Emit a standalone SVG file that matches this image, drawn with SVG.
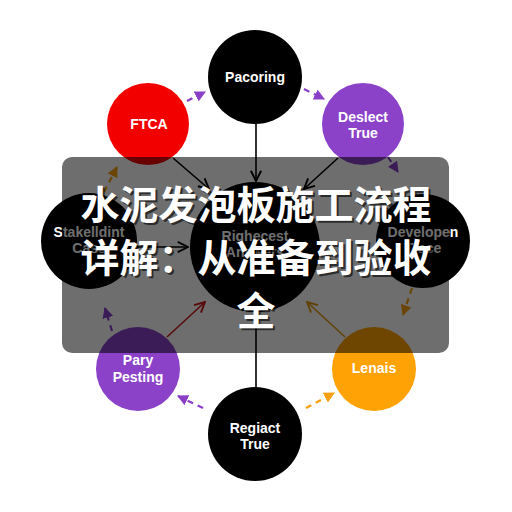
<svg xmlns="http://www.w3.org/2000/svg" width="512" height="512" viewBox="0 0 512 512">
  <style>
    .lbl{font-family:"Liberation Sans",Arial,sans-serif;font-weight:bold;font-size:14px;fill:#fff;text-anchor:middle}
    .dash{fill:none;stroke-width:2.2;stroke-dasharray:6 5}
    .solid{fill:none;stroke-width:1.6}
    .title{font-family:"Noto Sans CJK SC","Noto Sans",sans-serif;font-weight:bold;font-size:39px;fill:#fff;text-anchor:middle}
    .shadow{font-family:"Noto Sans CJK SC","Noto Sans",sans-serif;font-weight:bold;font-size:39px;fill:#000;fill-opacity:0.6;text-anchor:middle}
  </style>
  <defs>
    <marker id="tp" viewBox="0 0 10 10" refX="9" refY="5" markerWidth="5" markerHeight="5" orient="auto" markerUnits="strokeWidth">
      <path d="M0,0 L10,5 L0,10 Z" fill="#8a3fc9"/>
    </marker>
    <marker id="to" viewBox="0 0 10 10" refX="9" refY="5" markerWidth="5" markerHeight="5" orient="auto" markerUnits="strokeWidth">
      <path d="M0,0 L10,5 L0,10 Z" fill="#f5a010"/>
    </marker>
    <marker id="cb" viewBox="0 0 10 10" refX="9" refY="5" markerWidth="8" markerHeight="8" orient="auto" markerUnits="strokeWidth">
      <path d="M1,1 L9,5 L1,9" fill="none" stroke="#000" stroke-width="1.5"/>
    </marker>
    <marker id="cr" viewBox="0 0 10 10" refX="9" refY="5" markerWidth="8" markerHeight="8" orient="auto" markerUnits="strokeWidth">
      <path d="M1,1 L9,5 L1,9" fill="none" stroke="#d01818" stroke-width="1.5"/>
    </marker>
    <marker id="co" viewBox="0 0 10 10" refX="9" refY="5" markerWidth="8" markerHeight="8" orient="auto" markerUnits="strokeWidth">
      <path d="M1,1 L9,5 L1,9" fill="none" stroke="#e09a10" stroke-width="1.5"/>
    </marker>
  </defs>
  <rect width="512" height="512" fill="#fff"/>

  <g id="connectors">
    <line class="dash" x1="187" y1="101" x2="205" y2="92" stroke="#8a3fc9" marker-end="url(#tp)"/>
    <line class="dash" x1="304" y1="89" x2="324" y2="99" stroke="#8a3fc9" marker-end="url(#tp)"/>
    <line class="dash" x1="388" y1="157" x2="398" y2="172" stroke="#8a3fc9" marker-end="url(#tp)"/>
    <line class="dash" x1="104" y1="192" x2="117" y2="167" stroke="#f5a010" marker-end="url(#to)"/>
    <line class="dash" x1="112" y1="331" x2="105" y2="308" stroke="#8a3fc9" marker-end="url(#tp)"/>
    <line class="dash" x1="412" y1="288" x2="403" y2="315" stroke="#f5a010" marker-end="url(#to)"/>
    <line class="dash" x1="203" y1="408" x2="178" y2="396" stroke="#8a3fc9" marker-end="url(#tp)"/>
    <line class="dash" x1="306" y1="408" x2="334" y2="393" stroke="#f5a010" marker-end="url(#to)"/>
    <line class="solid" x1="256" y1="124" x2="256" y2="181" stroke="#000" marker-end="url(#cb)"/>
    <line class="solid" x1="173" y1="158" x2="209" y2="189" stroke="#000" marker-end="url(#cb)"/>
    <line class="solid" x1="338" y1="158" x2="304" y2="189" stroke="#000" marker-end="url(#cb)"/>
    <line class="solid" x1="137" y1="247" x2="188" y2="247" stroke="#000" marker-end="url(#cb)"/>
    <line class="solid" x1="167" y1="337" x2="205" y2="302" stroke="#d01818" marker-end="url(#cr)"/>
    <line class="solid" x1="345" y1="337" x2="307" y2="302" stroke="#e09a10" marker-end="url(#co)"/>
    <line class="solid" x1="256" y1="312" x2="256" y2="387" stroke="#000"/>
  </g>

  <g id="n-pacoring"><circle cx="255" cy="77" r="47" fill="#000"/><text class="lbl" x="255" y="82">Pacoring</text></g>
  <g id="n-ftca"><circle cx="148" cy="124" r="41" fill="#f20000"/><text class="lbl" x="149" y="129">FTCA</text></g>
  <g id="n-deslect"><circle cx="363" cy="124" r="41" fill="#8b42c9"/><text class="lbl" x="363" y="122">Deslect</text><text class="lbl" x="363" y="138">True</text></g>
  <g id="n-stake"><circle cx="89" cy="241" r="48" fill="#000"/><text class="lbl" x="89" y="237">Stakelldint</text><text class="lbl" x="89" y="253">Case</text></g>
  <g id="n-center"><circle cx="255" cy="247" r="65" fill="#000"/><text class="lbl" x="255" y="241">Righecest</text><text class="lbl" x="255" y="257">Answers</text></g>
  <g id="n-developen"><circle cx="423" cy="241" r="47" fill="#000"/><text class="lbl" x="423" y="237">Developen</text><text class="lbl" x="423" y="253">Trace</text></g>
  <g id="n-pary"><circle cx="138" cy="369" r="42" fill="#8b42c9"/><text class="lbl" x="138" y="365">Pary</text><text class="lbl" x="138" y="382">Pesting</text></g>
  <g id="n-lenais"><circle cx="374" cy="369" r="42" fill="#ffa205"/><text class="lbl" x="374" y="373">Lenais</text></g>
  <g id="n-regiact"><circle cx="255" cy="434" r="47" fill="#000"/><text class="lbl" x="255" y="433">Regiact</text><text class="lbl" x="255" y="449">True</text></g>

  <g id="overlay">
    <rect x="62" y="157" width="387" height="196" rx="10" fill="#000" fill-opacity="0.57"/>
    <text class="shadow" x="258" y="221">水泥发泡板施工流程</text>
    <text class="shadow" x="258" y="274">详解：从准备到验收</text>
    <text class="shadow" x="258" y="327">全</text>
    <text class="title" x="256" y="219">水泥发泡板施工流程</text>
    <text class="title" x="256" y="272">详解：从准备到验收</text>
    <text class="title" x="256" y="325">全</text>
  </g>
</svg>
